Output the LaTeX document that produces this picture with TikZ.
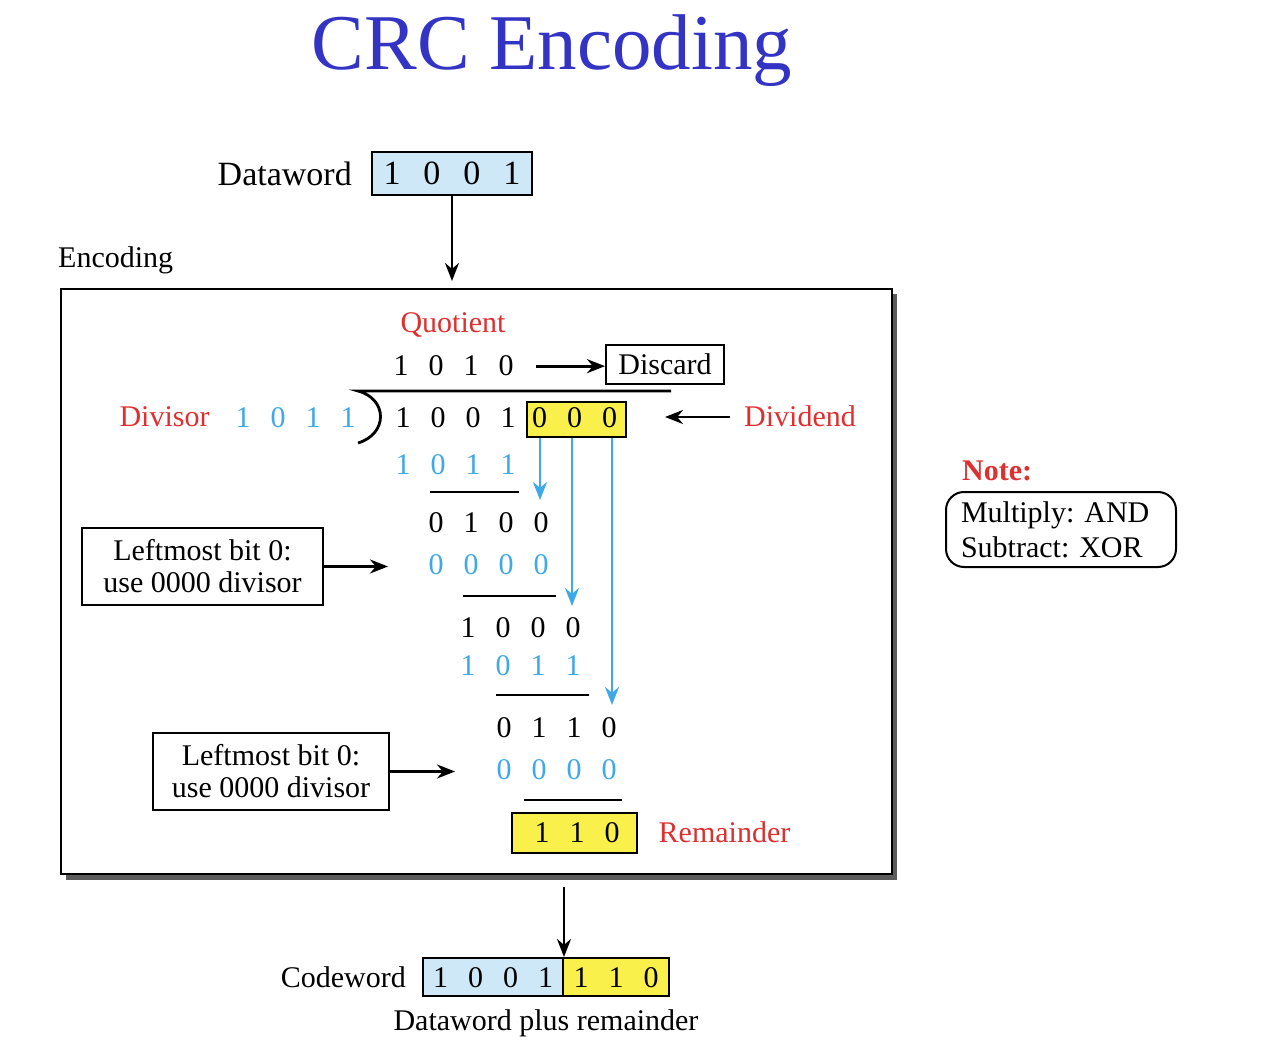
\documentclass[tikz,border=0pt]{standalone}
\usepackage{fontspec}
\setmainfont{Liberation Serif}
\usetikzlibrary{arrows.meta,calc}
\frenchspacing

\definecolor{titleblue}{RGB}{51,51,196}
\definecolor{bitblue}{RGB}{62,168,232}
\definecolor{labred}{RGB}{222,48,48}
\definecolor{boxblue}{RGB}{206,232,248}
\definecolor{boxyellow}{RGB}{250,240,75}
\definecolor{shadowgray}{RGB}{92,92,92}

% one fixed-width cell per bit
\newcommand\bitcell[2][35pt]{\makebox[#1]{#2}}
\newcommand\fourbits[4]{\bitcell{#1}\bitcell{#2}\bitcell{#3}\bitcell{#4}}

\tikzset{
  x=1pt, y=-1pt,
  txt/.style={font=\fontsize{30}{32}\selectfont, inner sep=0pt},
  bitrow/.style={txt, anchor=base west},
  bluerow/.style={bitrow, text=bitblue},
  redlab/.style={txt, text=labred, anchor=base},
  arr/.style={-{Stealth[length=18pt,width=14pt]}, line width=2.8pt},
  barr/.style={-{Stealth[length=18pt,width=14pt]}, line width=2.8pt, draw=bitblue, color=bitblue},
  subrule/.style={line width=2pt},
  framed/.style={draw, line width=2pt, inner sep=0pt},
  notebox/.style={draw, line width=2pt, rounded corners=18pt, align=left,
    font=\fontsize{30}{35}\selectfont, text width=200pt, minimum height=75pt,
    inner xsep=15pt, inner ysep=0pt},
}

\begin{document}
\begin{tikzpicture}
\useasboundingbox (0,0) rectangle (1264,1048);

% title
\node[font=\fontsize{79}{84}\selectfont, text=titleblue, inner sep=0pt, anchor=base] (title) at (552,70) {CRC Encoding};

% dataword
\node[framed, fill=boxblue, minimum width=160pt, minimum height=43pt,
      font=\fontsize{34}{36}\selectfont] (dw) at (452,173.5)
      {\bitcell[40pt]{1}\bitcell[40pt]{0}\bitcell[40pt]{0}\bitcell[40pt]{1}};
\node[font=\fontsize{34}{36}\selectfont, inner sep=0pt, anchor=base east] (dwlab) at (352,186) {Dataword};

% encoding frame with drop shadow
\node[txt, anchor=base west] (enclab) at (58,268) {Encoding};
\fill[shadowgray] (66,294) rectangle (897,880);
\node[draw, line width=2.4pt, fill=white, minimum width=831pt, minimum height=585pt, inner sep=0pt,
      anchor=north west] (enc) at (60,288) {};
\coordinate (encin) at ($(dw.south)+(0,85)$);
\draw[arr] (dw.south) -- (encin);

% quotient and discard
\node[redlab] (quolab) at (453,333) {Quotient};
\node[bitrow] (quo) at (383.5,376) {\fourbits1010};
\node[txt, framed, minimum width=118pt, minimum height=39pt] (disc) at (665,364.5) {Discard};
\draw[arr] ([xshift=12pt]quo.east) -- (quo.east -| disc.west);

% division bar and bracket
\draw[line width=2.8pt] (671,391) -- (358,391) .. controls (388,399) and (388,434) .. (358,443);

% divisor
\node[redlab] (dvslab) at (164.5,427) {Divisor};
\node[bluerow] (dvs) at (225.5,428) {\fourbits1011};

% dividend with appended zeros
\node[bitrow] (dvd) at (385.5,428) {\fourbits1001};
\node[framed, fill=boxyellow, minimum width=99pt, minimum height=35pt] (zbox) at (576.5,419.5) {};
\node[bitrow] (zeros) at (522,428) {\bitcell{0}\bitcell{0}\bitcell{0}};
\node[redlab] (dvdlab) at (800,427) {Dividend};
\coordinate (dvdstart) at (730,417);
\coordinate (dvdend) at (665,417);
\draw[arr] (dvdstart) -- (dvdend);

% long division steps
\node[bluerow] (s1) at (385.5,474) {\fourbits1011};
\draw[subrule] (430,492) -- (519,492);
\node[bitrow] (r1) at (418.5,532) {\fourbits0100};
\node[bluerow] (s2) at (418.5,574) {\fourbits0000};
\draw[subrule] (463,596) -- (556,596);
\node[bitrow] (r2) at (450.5,637) {\fourbits1000};
\node[bluerow] (s3) at (450.5,675) {\fourbits1011};
\draw[subrule] (496,695) -- (589,695);
\node[bitrow] (r3) at (486.5,737) {\fourbits0110};
\node[bluerow] (s4) at (486.5,779) {\fourbits0000};
\draw[subrule] (524,800) -- (622,800);

% bring-down arrows
\coordinate (b1) at (540,500);
\coordinate (b2) at (572,606);
\coordinate (b3) at (612,705);
\draw[barr] (b1 |- zbox.south) -- (b1);
\draw[barr] (b2 |- zbox.south) -- (b2);
\draw[barr] (b3 |- zbox.south) -- (b3);

% remainder
\node[framed, fill=boxyellow, minimum width=125pt, minimum height=40pt] (rbox) at (574.5,833) {};
\node[bitrow] (rem) at (524.5,842) {\bitcell{1}\bitcell{1}\bitcell{0}};
\node[redlab] (remlab) at (724.5,842) {Remainder};

% notes on zero divisor
\node[txt, framed, align=center, minimum width=241pt, minimum height=77pt] (lm1) at (202.5,566.5)
  {Leftmost bit 0:\\use 0000 divisor};
\coordinate (lm1end) at (388,566.5);
\draw[arr] (lm1.east) -- (lm1end);
\node[txt, framed, align=center, minimum width=236pt, minimum height=77pt] (lm2) at (271,771.5)
  {Leftmost bit 0:\\use 0000 divisor};
\coordinate (lm2end) at (455,771.5);
\draw[arr] (lm2.east) -- (lm2end);

% side note
\node[txt, font=\fontsize{30}{32}\selectfont\bfseries, text=labred, anchor=base west] (notelab) at (962,480) {Note:};
\node[notebox] (note) at (1061,529.5) {Multiply: AND\\Subtract: XOR};

% codeword
\node[framed, fill=boxblue, minimum width=140pt, minimum height=38pt] (cwb) at (493,977) {};
\node[framed, fill=boxyellow, minimum width=106pt, minimum height=38pt] (cwy) at (616,977) {};
\node[bitrow] (cwbits) at (423,987) {\fourbits1001};
\node[bitrow] (cwrem) at (563.5,987) {\bitcell{1}\bitcell{1}\bitcell{0}};
\node[txt, anchor=base east] (cwlab) at (406,987) {Codeword};
\node[txt, anchor=base] (cwsub) at (546,1030) {Dataword plus remainder};
\coordinate (cwin) at ($(cwb.north east)+(0,-70)$);
\draw[arr] (cwin) -- (cwb.north east);
\end{tikzpicture}
\end{document}
